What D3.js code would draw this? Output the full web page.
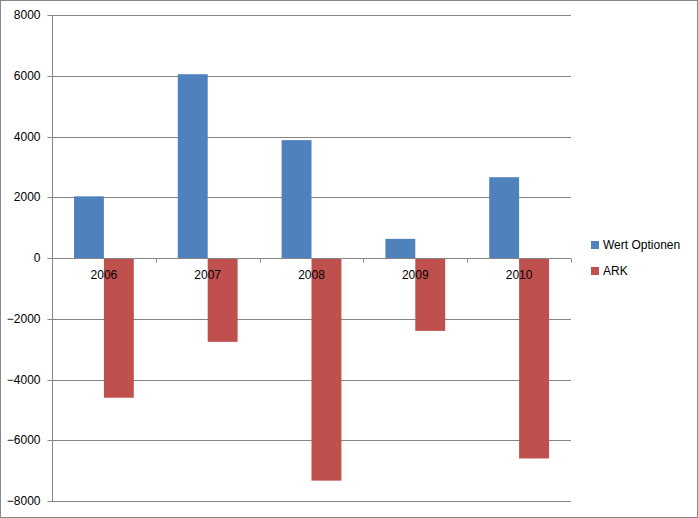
<!DOCTYPE html>
<html><head><meta charset="utf-8">
<script src="https://cdn.jsdelivr.net/npm/d3@7"></script>
<style>body{margin:0;background:#fff}svg{display:block}</style>
</head><body><svg id="c" width="698" height="518"></svg>
<script>
const categories = ["2006","2007","2008","2009","2010"];
const seriesNames = ["Wert Optionen","ARK"];
const wertOptionen = [2030, 6050, 3880, 630, 2660];
const ark = [-4600, -2760, -7330, -2400, -6600];
const yTicks = [-8000,-6000,-4000,-2000,0,2000,4000,6000,8000];
const colors = ["#4F81BD","#C0504D"];

const svg = d3.select("#c");
const font = "'Liberation Sans', Arial, sans-serif";
svg.append("rect").attr("x",0.5).attr("y",0.5).attr("width",697).attr("height",517)
  .attr("fill","#fff").attr("stroke","#888");

const L = 52, R = 571, T = 15, B = 501;
const y = d3.scaleLinear().domain([-8000,8000]).range([B,T]);
const x = d3.scaleBand().domain(categories).range([L,R]).paddingInner(0).paddingOuter(0);
const bw = x.bandwidth();
const xi = d3.scaleBand().domain(seriesNames).range([bw*0.212, bw*0.788]).paddingInner(0).paddingOuter(0);

// gridlines
svg.append("g").selectAll("line").data(yTicks).join("line")
  .attr("x1",L).attr("x2",R).attr("y1",d=>Math.round(y(d))+0.5).attr("y2",d=>Math.round(y(d))+0.5)
  .attr("stroke","#868686").attr("stroke-width",1);

// y axis
const ya = svg.append("g").attr("transform",`translate(${L+0.5},0)`)
  .call(d3.axisLeft(y).tickValues(yTicks).tickSize(5).tickPadding(7).tickFormat(d3.format("d")));
ya.select(".domain").attr("stroke","#868686").attr("d",`M-0,${T}V${B+0.5}`);
ya.selectAll(".tick line").attr("stroke","#868686");
ya.selectAll(".tick").attr("transform",d=>`translate(0,${Math.round(y(d))+0.5})`);
ya.selectAll("text").attr("font-family",font).attr("font-size",12).attr("fill","#000");

// bars
const data = categories.map((c,i)=>({c, vals:[wertOptionen[i], ark[i]]}));
const g = svg.append("g").selectAll("g").data(data).join("g")
  .attr("transform",d=>`translate(${x(d.c)},0)`);
g.selectAll("rect").data(d=>d.vals.map((v,j)=>({v,s:seriesNames[j],j}))).join("rect")
  .attr("x",d=>xi(d.s)).attr("width",xi.bandwidth())
  .attr("y",d=>y(Math.max(0,d.v))).attr("height",d=>Math.abs(y(d.v)-y(0)))
  .attr("fill",d=>colors[d.j]);

// category axis at zero
const y0 = Math.round(y(0))+0.5;
svg.append("line").attr("x1",L).attr("x2",R).attr("y1",y0).attr("y2",y0).attr("stroke","#868686");
const bounds = categories.map(c=>x(c)).concat([R]);
svg.append("g").selectAll("line").data(bounds).join("line")
  .attr("x1",d=>Math.round(d)+0.5).attr("x2",d=>Math.round(d)+0.5)
  .attr("y1",y0).attr("y2",y0+4).attr("stroke","#868686");
svg.append("g").selectAll("text").data(categories).join("text")
  .attr("x",d=>x(d)+bw/2).attr("y",y0+20)
  .attr("text-anchor","middle").attr("font-family",font).attr("font-size",12).attr("fill","#000")
  .text(d=>d);

// legend
const lg = svg.append("g").selectAll("g").data(seriesNames).join("g")
  .attr("transform",(d,i)=>`translate(591,${241+i*26})`);
lg.append("rect").attr("width",8).attr("height",8).attr("fill",(d,i)=>colors[i]);
lg.append("text").attr("x",12).attr("y",8).attr("font-family",font).attr("font-size",12)
  .attr("fill","#000").text(d=>d);
</script></body></html>
